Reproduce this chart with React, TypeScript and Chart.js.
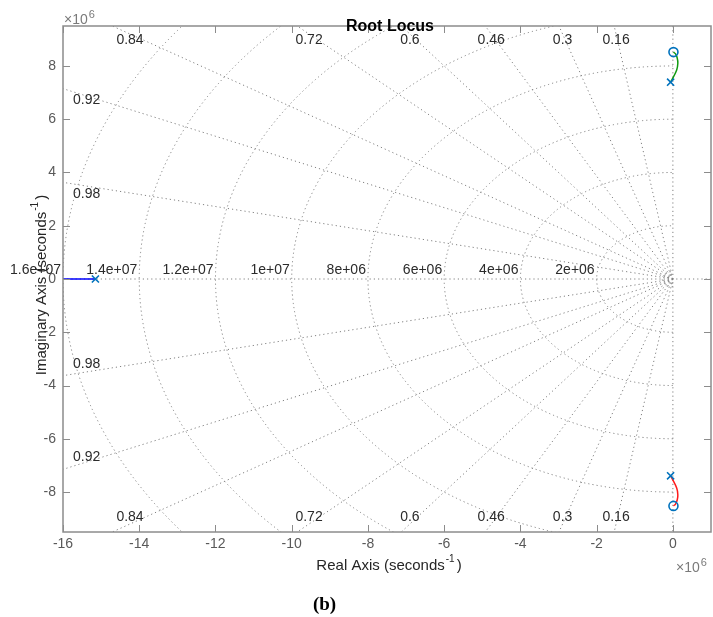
import React, { useEffect, useRef } from 'react';
import { Chart, registerables } from 'chart.js';

Chart.register(...registerables);

// Axis limits (seconds^-1)
const X_MIN = -16e6;
const X_MAX = 1e6;
const Y_MIN = -9.5e6;
const Y_MAX = 9.5e6;
const EXPONENT = 1e6;
const xTickValues = [-16e6, -14e6, -12e6, -10e6, -8e6, -6e6, -4e6, -2e6, 0];
const yTickValues = [-8e6, -6e6, -4e6, -2e6, 0, 2e6, 4e6, 6e6, 8e6];

// Root locus branches
const realBranchRe = [-15.15e6, -20e6];
const realBranchIm = [0, 0];
const upperBranchRe = [-0.06e6, -0.03e6, 0.1e6, 0.13e6, 0.115e6, 0.07e6, 0.015e6];
const upperBranchIm = [7.39e6, 7.47e6, 7.85e6, 8.1e6, 8.29e6, 8.45e6, 8.52e6];
const lowerBranchRe = [-0.06e6, -0.03e6, 0.1e6, 0.13e6, 0.115e6, 0.07e6, 0.015e6];
const lowerBranchIm = [-7.39e6, -7.47e6, -7.85e6, -8.1e6, -8.29e6, -8.45e6, -8.52e6];

// Poles and zeros
const poleRe = [-15.15e6, -0.06e6, -0.06e6];
const poleIm = [0, 7.39e6, -7.39e6];
const zeroRe = [0.015e6, 0.015e6];
const zeroIm = [8.52e6, -8.52e6];

// s-plane grid
const dampingValues = [0.16, 0.3, 0.46, 0.6, 0.72, 0.84, 0.92, 0.98];
const dampingLabels = ['0.16', '0.3', '0.46', '0.6', '0.72', '0.84', '0.92', '0.98'];
const freqValues = [2e6, 4e6, 6e6, 8e6, 10e6, 12e6, 14e6, 16e6];
const freqLabels = ['2e+06', '4e+06', '6e+06', '8e+06', '1e+07', '1.2e+07', '1.4e+07', '1.6e+07'];
const extraFreqValues = [0.15e6, 0.28e6];

const SANS = '"Liberation Sans", Arial, Helvetica, sans-serif';
const AXIS_COLOR = '#8c8c8c';
const TICK_TEXT = '#595959';
const GRID_COLOR = '#808080';

const toPts = (re: number[], im: number[]) => re.map((r, i) => ({ x: r, y: im[i] }));
const fmtTick = (v: any) => String(Math.round((Number(v) / EXPONENT) * 100) / 100);

const sgridPlugin = {
  id: 'sgrid',
  beforeDatasetsDraw(chart: any) {
    const { ctx, chartArea: ca } = chart;
    const xs = chart.scales.x;
    const ys = chart.scales.y;
    const x0 = xs.getPixelForValue(0);
    const y0 = ys.getPixelForValue(0);
    const R = 1e9;
    ctx.save();
    ctx.beginPath();
    ctx.rect(ca.left, ca.top, ca.right - ca.left, ca.bottom - ca.top);
    ctx.clip();
    ctx.strokeStyle = GRID_COLOR;
    ctx.lineWidth = 1;
    ctx.setLineDash([1.2, 3]);
    for (const z of dampingValues) {
      const w = Math.sqrt(1 - z * z);
      for (const s of [1, -1]) {
        ctx.beginPath();
        ctx.moveTo(x0, y0);
        ctx.lineTo(xs.getPixelForValue(-z * R), ys.getPixelForValue(s * w * R));
        ctx.stroke();
      }
    }
    ctx.beginPath();
    ctx.moveTo(ca.left, y0);
    ctx.lineTo(ca.right, y0);
    ctx.stroke();
    ctx.beginPath();
    ctx.moveTo(x0, ca.top);
    ctx.lineTo(x0, ca.bottom);
    ctx.stroke();
    for (const r of [...freqValues, ...extraFreqValues]) {
      const rx = x0 - xs.getPixelForValue(-r);
      const ry = ys.getPixelForValue(-r) - y0;
      ctx.beginPath();
      ctx.ellipse(x0, y0, rx, ry, 0, Math.PI / 2, (3 * Math.PI) / 2);
      ctx.stroke();
    }
    ctx.restore();

    // grid labels
    ctx.save();
    ctx.font = `14px ${SANS}`;
    ctx.fillStyle = '#2b2b2b';
    ctx.textBaseline = 'middle';
    ctx.textAlign = 'right';
    freqValues.forEach((r, i) => {
      ctx.fillText(freqLabels[i], xs.getPixelForValue(-r) - 2, y0 - 9);
    });
    dampingValues.forEach((z, i) => {
      const w = Math.sqrt(1 - z * z);
      const slope = w / z;
      const hitsTop = slope * -X_MIN > Y_MAX;
      if (hitsTop) {
        const yv = ys.getValueForPixel(ca.top + 8);
        const px = xs.getPixelForValue(-yv / slope);
        ctx.textAlign = 'center';
        ctx.fillText(dampingLabels[i], px, ca.top + 14.5);
        ctx.fillText(dampingLabels[i], px, ca.bottom - 14.5);
      } else {
        const xv = xs.getValueForPixel(ca.left + 10);
        const yv = -xv * slope;
        ctx.textAlign = 'left';
        ctx.fillText(dampingLabels[i], ca.left + 10, ys.getPixelForValue(yv));
        ctx.fillText(dampingLabels[i], ca.left + 10, ys.getPixelForValue(-yv));
      }
    });
    ctx.restore();
  },
  afterDraw(chart: any) {
    const { ctx, chartArea: ca } = chart;
    const xs = chart.scales.x;
    const ys = chart.scales.y;
    ctx.save();
    // box
    ctx.strokeStyle = AXIS_COLOR;
    ctx.lineWidth = 1.5;
    ctx.setLineDash([]);
    ctx.strokeRect(ca.left, ca.top, ca.right - ca.left, ca.bottom - ca.top);
    // inward ticks
    ctx.lineWidth = 1;
    const TL = 7;
    ctx.beginPath();
    for (const t of xs.ticks) {
      const px = Math.round(xs.getPixelForValue(t.value)) + 0.5;
      ctx.moveTo(px, ca.bottom);
      ctx.lineTo(px, ca.bottom - TL);
      ctx.moveTo(px, ca.top);
      ctx.lineTo(px, ca.top + TL);
    }
    for (const t of ys.ticks) {
      const py = Math.round(ys.getPixelForValue(t.value)) + 0.5;
      ctx.moveTo(ca.left, py);
      ctx.lineTo(ca.left + TL, py);
      ctx.moveTo(ca.right, py);
      ctx.lineTo(ca.right - TL, py);
    }
    ctx.stroke();

    // title
    ctx.fillStyle = '#000';
    ctx.font = `bold 16px ${SANS}`;
    ctx.textAlign = 'center';
    ctx.textBaseline = 'alphabetic';
    ctx.fillText('Root Locus', (ca.left + ca.right) / 2 + 3, 31);

    // axis titles with superscript
    const drawSupTitle = (main: string, cx: number, baseline: number, rotate: boolean) => {
      ctx.save();
      ctx.fillStyle = '#262626';
      ctx.textAlign = 'left';
      ctx.textBaseline = 'alphabetic';
      ctx.font = `15px ${SANS}`;
      const w1 = ctx.measureText(main).width;
      const wClose = ctx.measureText(')').width;
      ctx.font = `10px ${SANS}`;
      const wSup = ctx.measureText('-1').width;
      const total = w1 + 1 + wSup + 2 + wClose;
      if (rotate) {
        ctx.translate(baseline, cx);
        ctx.rotate(-Math.PI / 2);
        ctx.translate(-cx, -baseline);
      }
      let sx = cx - total / 2;
      ctx.font = `15px ${SANS}`;
      ctx.fillText(main, sx, baseline);
      sx += w1 + 1;
      ctx.font = `10px ${SANS}`;
      ctx.fillText('-1', sx, baseline - 8);
      sx += wSup + 2;
      ctx.font = `15px ${SANS}`;
      ctx.fillText(')', sx, baseline);
      ctx.restore();
    };
    drawSupTitle('Real Axis (seconds', (ca.left + ca.right) / 2 + 2, 569.5, false);
    drawSupTitle('Imaginary Axis (seconds', 285, 46, true);

    // exponent labels
    const drawExp = (x: number, baseline: number) => {
      ctx.save();
      ctx.fillStyle = '#7a7a7a';
      ctx.textAlign = 'left';
      ctx.textBaseline = 'alphabetic';
      ctx.font = `14px ${SANS}`;
      const label = '\u00d710';
      ctx.fillText(label, x, baseline);
      const w = ctx.measureText(label).width;
      ctx.font = `11px ${SANS}`;
      ctx.fillText(String(Math.log10(EXPONENT)), x + w + 1, baseline - 5.5);
      ctx.restore();
    };
    drawExp(64, 23.5);
    drawExp(676, 571.5);

    // caption
    ctx.fillStyle = '#000';
    ctx.font = 'bold 19px "Liberation Serif", "DejaVu Serif", serif';
    ctx.textAlign = 'center';
    ctx.fillText('(b)', 324.5, 610);
    ctx.restore();
  },
};

export default function App() {
  const canvasRef = useRef<HTMLCanvasElement | null>(null);

  useEffect(() => {
    if (!canvasRef.current) return;
    const chart = new Chart(canvasRef.current, {
      type: 'scatter',
      data: {
        datasets: [
          {
            label: 'Poles',
            data: toPts(poleRe, poleIm),
            showLine: false,
            pointStyle: 'crossRot',
            pointRadius: 5,
            borderColor: '#0072BD',
            backgroundColor: '#0072BD',
            pointBorderWidth: 1.6,
            order: 0,
          },
          {
            label: 'Zeros',
            data: toPts(zeroRe, zeroIm),
            showLine: false,
            pointStyle: 'circle',
            pointRadius: 4.5,
            borderColor: '#0072BD',
            backgroundColor: 'rgba(0,0,0,0)',
            pointBorderWidth: 1.6,
            order: 0,
          },
          {
            label: 'Branch 1',
            data: toPts(realBranchRe, realBranchIm),
            showLine: true,
            borderColor: '#0000ff',
            borderWidth: 1.3,
            pointRadius: 0,
            order: 1,
          },
          {
            label: 'Branch 2',
            data: toPts(upperBranchRe, upperBranchIm),
            showLine: true,
            borderColor: '#109a10',
            borderWidth: 1.5,
            pointRadius: 0,
            tension: 0.4,
            order: 1,
          },
          {
            label: 'Branch 3',
            data: toPts(lowerBranchRe, lowerBranchIm),
            showLine: true,
            borderColor: '#ff1a1a',
            borderWidth: 1.5,
            pointRadius: 0,
            tension: 0.4,
            order: 1,
          },
        ],
      } as any,
      options: {
        animation: false,
        responsive: false,
        devicePixelRatio: 1,
        layout: { autoPadding: false, padding: { top: 26, right: 2, left: 0, bottom: 0 } },
        plugins: {
          legend: { display: false },
          tooltip: { enabled: false },
          title: { display: false },
        },
        scales: {
          x: {
            type: 'linear',
            position: 'bottom',
            min: X_MIN,
            max: X_MAX,
            grid: { display: false, drawTicks: false },
            border: { display: false },
            afterBuildTicks: (scale: any) => {
              scale.ticks = xTickValues.map((v) => ({ value: v }));
            },
            ticks: {
              autoSkip: false,
              maxRotation: 0,
              padding: 4,
              color: TICK_TEXT,
              font: { family: SANS, size: 14 },
              callback: fmtTick,
            },
            afterFit: (scale: any) => {
              scale.height = 85;
            },
          },
          y: {
            type: 'linear',
            position: 'left',
            min: Y_MIN,
            max: Y_MAX,
            grid: { display: false, drawTicks: false },
            border: { display: false },
            afterBuildTicks: (scale: any) => {
              scale.ticks = yTickValues.map((v) => ({ value: v }));
            },
            ticks: {
              autoSkip: false,
              padding: 7,
              color: TICK_TEXT,
              font: { family: SANS, size: 14 },
              callback: fmtTick,
            },
            afterFit: (scale: any) => {
              scale.width = 63;
            },
          },
        },
      } as any,
      plugins: [sgridPlugin],
    });
    return () => chart.destroy();
  }, []);

  return (
    <div style={{ position: 'absolute', left: 0, top: 0, width: 713, height: 617, background: '#fff' }}>
      <canvas ref={canvasRef} width={713} height={617} style={{ display: 'block' }} />
    </div>
  );
}
